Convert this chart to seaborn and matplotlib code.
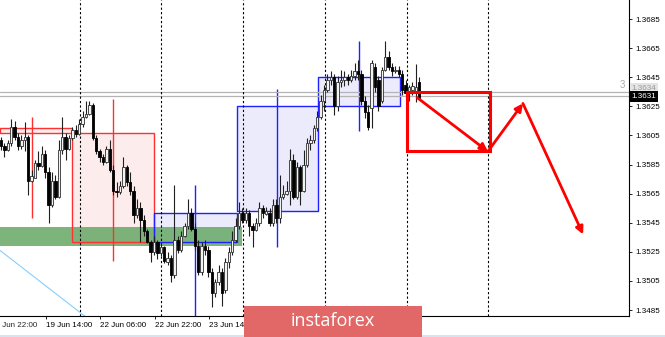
import numpy as np
import pandas as pd
import matplotlib
matplotlib.use('Agg')
import matplotlib.pyplot as plt
import matplotlib.transforms as mtransforms
from matplotlib.patches import Rectangle
import seaborn as sns

# ---------------- data (H1 candles) ----------------
opens = [1.3602, 1.3598, 1.3595, 1.3600, 1.3611, 1.3604, 1.3598, 1.3602, 1.3604, 1.3574,
         1.3576, 1.3586, 1.3584, 1.3592, 1.3580, 1.3557, 1.3574, 1.3563, 1.3595, 1.3604,
         1.3596, 1.3603, 1.3609, 1.3606, 1.3613, 1.3618, 1.3620, 1.3626, 1.3603, 1.3594,
         1.3590, 1.3587, 1.3596, 1.3581, 1.3567, 1.3566, 1.3570, 1.3583, 1.3573, 1.3567,
         1.3550, 1.3555, 1.3547, 1.3539, 1.3532, 1.3525, 1.3532, 1.3524, 1.3528, 1.3518,
         1.3521, 1.3509, 1.3533, 1.3526, 1.3536, 1.3543, 1.3552, 1.3541, 1.3529, 1.3511,
         1.3529, 1.3526, 1.3511, 1.3497, 1.3504, 1.3511, 1.3499, 1.3518, 1.3525, 1.3533,
         1.3543, 1.3552, 1.3547, 1.3552, 1.3543, 1.3540, 1.3545, 1.3555, 1.3551, 1.3552,
         1.3545, 1.3557, 1.3548, 1.3563, 1.3565, 1.3567, 1.3588, 1.3563, 1.3583, 1.3567,
         1.3585, 1.3600, 1.3602, 1.3610, 1.3618, 1.3629, 1.3636, 1.3643, 1.3645, 1.3625,
         1.3642, 1.3643, 1.3645, 1.3643, 1.3646, 1.3649, 1.3647, 1.3629, 1.3621, 1.3624,
         1.3652, 1.3643, 1.3629, 1.3650, 1.3659, 1.3652, 1.3649, 1.3650, 1.3647, 1.3640,
         1.3634, 1.3636, 1.3635, 1.3642]
closes = [1.3598, 1.3595, 1.3600, 1.3611, 1.3604, 1.3598, 1.3602, 1.3604, 1.3574, 1.3577,
          1.3586, 1.3584, 1.3592, 1.3580, 1.3557, 1.3574, 1.3563, 1.3595, 1.3604, 1.3596,
          1.3603, 1.3609, 1.3606, 1.3613, 1.3618, 1.3620, 1.3626, 1.3603, 1.3594, 1.3590,
          1.3587, 1.3596, 1.3581, 1.3567, 1.3566, 1.3570, 1.3583, 1.3573, 1.3567, 1.3550,
          1.3555, 1.3547, 1.3539, 1.3532, 1.3525, 1.3532, 1.3524, 1.3528, 1.3519, 1.3521,
          1.3509, 1.3533, 1.3526, 1.3536, 1.3543, 1.3552, 1.3541, 1.3529, 1.3511, 1.3529,
          1.3526, 1.3511, 1.3497, 1.3504, 1.3511, 1.3497, 1.3518, 1.3525, 1.3533, 1.3543,
          1.3552, 1.3547, 1.3552, 1.3543, 1.3540, 1.3545, 1.3555, 1.3552, 1.3553, 1.3545,
          1.3557, 1.3548, 1.3563, 1.3565, 1.3567, 1.3588, 1.3563, 1.3583, 1.3567, 1.3585,
          1.3600, 1.3602, 1.3610, 1.3618, 1.3629, 1.3636, 1.3643, 1.3645, 1.3625, 1.3642,
          1.3643, 1.3645, 1.3643, 1.3646, 1.3649, 1.3647, 1.3629, 1.3621, 1.3611, 1.3655,
          1.3638, 1.3625, 1.3650, 1.3659, 1.3652, 1.3649, 1.3650, 1.3647, 1.3636, 1.3634,
          1.3638, 1.3639, 1.3638, 1.3631]
highs = [1.3604, 1.3600, 1.3602, 1.3616, 1.3615, 1.3607, 1.3605, 1.3614, 1.3605, 1.3581,
         1.3588, 1.3594, 1.3598, 1.3595, 1.3583, 1.3580, 1.3578, 1.3602, 1.3618, 1.3607,
         1.3605, 1.3611, 1.3612, 1.3616, 1.3622, 1.3629, 1.3629, 1.3627, 1.3605, 1.3596,
         1.3592, 1.3598, 1.3602, 1.3585, 1.3573, 1.3574, 1.3590, 1.3585, 1.3580, 1.3570,
         1.3561, 1.3559, 1.3550, 1.3541, 1.3533, 1.3536, 1.3533, 1.3531, 1.3529, 1.3525,
         1.3523, 1.3571, 1.3536, 1.3539, 1.3545, 1.3561, 1.3555, 1.3545, 1.3533, 1.3532,
         1.3533, 1.3529, 1.3514, 1.3506, 1.3516, 1.3514, 1.3521, 1.3528, 1.3539, 1.3548,
         1.3559, 1.3555, 1.3555, 1.3554, 1.3545, 1.3548, 1.3559, 1.3557, 1.3556, 1.3555,
         1.3561, 1.3561, 1.3578, 1.3571, 1.3574, 1.3596, 1.3592, 1.3587, 1.3585, 1.3595,
         1.3603, 1.3605, 1.3612, 1.3622, 1.3633, 1.3640, 1.3647, 1.3649, 1.3647, 1.3646,
         1.3650, 1.3649, 1.3647, 1.3650, 1.3655, 1.3657, 1.3650, 1.3632, 1.3626, 1.3657,
         1.3655, 1.3646, 1.3652, 1.3670, 1.3663, 1.3655, 1.3653, 1.3653, 1.3650, 1.3643,
         1.3640, 1.3642, 1.3654, 1.3645]
lows = [1.3595, 1.3590, 1.3594, 1.3598, 1.3602, 1.3595, 1.3596, 1.3594, 1.3564, 1.3573,
        1.3576, 1.3581, 1.3583, 1.3576, 1.3545, 1.3556, 1.3561, 1.3562, 1.3592, 1.3588,
        1.3595, 1.3602, 1.3604, 1.3605, 1.3611, 1.3617, 1.3619, 1.3602, 1.3592, 1.3587,
        1.3585, 1.3586, 1.3580, 1.3564, 1.3563, 1.3565, 1.3569, 1.3570, 1.3564, 1.3545,
        1.3548, 1.3532, 1.3536, 1.3531, 1.3518, 1.3523, 1.3520, 1.3522, 1.3517, 1.3516,
        1.3504, 1.3507, 1.3524, 1.3525, 1.3535, 1.3541, 1.3539, 1.3526, 1.3509, 1.3509,
        1.3523, 1.3508, 1.3487, 1.3494, 1.3502, 1.3488, 1.3497, 1.3514, 1.3523, 1.3532,
        1.3541, 1.3545, 1.3545, 1.3536, 1.3528, 1.3539, 1.3543, 1.3548, 1.3550, 1.3543,
        1.3543, 1.3545, 1.3545, 1.3561, 1.3564, 1.3557, 1.3561, 1.3561, 1.3557, 1.3566,
        1.3583, 1.3595, 1.3600, 1.3608, 1.3616, 1.3622, 1.3635, 1.3640, 1.3619, 1.3622,
        1.3638, 1.3639, 1.3640, 1.3642, 1.3643, 1.3643, 1.3626, 1.3617, 1.3609, 1.3610,
        1.3635, 1.3622, 1.3627, 1.3649, 1.3650, 1.3646, 1.3648, 1.3645, 1.3633, 1.3632,
        1.3629, 1.3633, 1.3628, 1.3630]

price_ticks = [1.3485, 1.3505, 1.3525, 1.3545, 1.3565, 1.3585, 1.3605,
               1.3625, 1.3645, 1.3665, 1.3685]
date_labels = ['18 Jun 22:00', '19 Jun 14:00', '22 Jun 06:00', '22 Jun 22:00', '23 Jun 14:00']
date_bars = [-2.8, 13.2, 29.2, 45.2, 61.2]
day_separators = [23.1, 47.1, 71.2, 95.3, 119.3, 143.3]

# daily boxes (bar start, bar end, low, high) and their cross lines (bar, low, high)
red_boxes = [(-0.3, 20.9, 1.3607, 1.3610), (20.9, 45.0, 1.3532, 1.3607)]
red_ticks = [(9.1, 1.3548, 1.3618), (32.9, 1.3519, 1.3630)]
blue_boxes = [(45.0, 69.4, 1.3532, 1.3552), (69.4, 93.2, 1.3553, 1.3625),
              (93.2, 117.4, 1.3625, 1.3645)]
blue_ticks = [(57.1, 1.3480, 1.3571), (81.2, 1.3528, 1.3637), (105.3, 1.3608, 1.3670)]
green_zone = (-0.3, 70.9, 1.3529, 1.3542)
bid_ask = [1.36346, 1.36319]
cyan_x = [-0.3, 26.2]
cyan_y = [1.3526, 1.3478]
forecast_box = (119.4, 143.8, 1.3594, 1.3635)
forecast_path_x = [122.4, 143.2, 153.5, 171.2]
forecast_path_y = [1.3631, 1.3594, 1.3627, 1.3537]

# ---------------- drawing ----------------
sns.set_theme(style='white')
plt.rcParams['font.family'] = ['Liberation Sans', 'DejaVu Sans']

fig = plt.figure(figsize=(6.65, 3.37), dpi=100)
ax = fig.add_axes([0, 21 / 337, 629 / 665, 316 / 337])
ax.set_xlim(-0.294, 184.7)
ax.set_ylim(1.34809, 1.36981)
ax.set_facecolor('white')
for s in ['top', 'left']:
    ax.spines[s].set_visible(False)
for s in ['right', 'bottom']:
    ax.spines[s].set_color('black')
    ax.spines[s].set_linewidth(0.8)

# zones
for x0, x1, lo, hi in red_boxes:
    ax.add_patch(Rectangle((x0, lo), x1 - x0, hi - lo, fc='#fdecec', ec='none', zorder=1))
ax.add_patch(Rectangle((green_zone[0], green_zone[2]), green_zone[1] - green_zone[0],
                       green_zone[3] - green_zone[2], fc='#6aaa6a', ec='none', alpha=0.88, zorder=1.2))
for x0, x1, lo, hi in blue_boxes:
    ax.add_patch(Rectangle((x0, lo), x1 - x0, hi - lo, fc='#e6e6fa', ec='none', alpha=0.8, zorder=1.1))
for x0, x1, lo, hi in red_boxes:
    ax.add_patch(Rectangle((x0, lo), x1 - x0, hi - lo, fill=False, ec='#ff3030', lw=1.0, zorder=1.4))
for x0, x1, lo, hi in blue_boxes:
    ax.add_patch(Rectangle((x0, lo), x1 - x0, hi - lo, fill=False, ec='#2020ff', lw=1.0, zorder=1.4))
for x, lo, hi in red_ticks:
    ax.vlines(x, lo, hi, color='#ff3030', lw=1.0, zorder=1.3)
for x, lo, hi in blue_ticks:
    ax.vlines(x, lo, hi, color='#2020ff', lw=1.0, zorder=1.3)

for p in bid_ask:
    ax.axhline(p, color='#b4b4b4', lw=0.9, zorder=1.5)
for x in day_separators:
    ax.axvline(x, color='black', lw=0.8, ls=(0, (2, 2)), zorder=2)

sns.lineplot(x=cyan_x, y=cyan_y, ax=ax, color='#87cefa', lw=0.8, zorder=1.6)

# candles
df = pd.DataFrame(dict(i=np.arange(len(closes)), o=opens, h=highs, l=lows, c=closes))
up = df.c >= df.o
ax.vlines(df.i, df.l, df.h, color='#202020', lw=0.8, zorder=3)
ax.bar(df.i[up], (df.c - df.o)[up], bottom=df.o[up], width=0.7, color='#f2f2f2',
       edgecolor='#303030', lw=0.6, zorder=4)
ax.bar(df.i[~up], (df.o - df.c)[~up], bottom=df.c[~up], width=0.7, color='black',
       edgecolor='black', lw=0.6, zorder=4)

# forecast drawing
fx0, fx1, flo, fhi = forecast_box
ax.add_patch(Rectangle((fx0, flo), fx1 - fx0, fhi - flo, fill=False, ec='#ff0000', lw=2.2, zorder=6))
for k in range(len(forecast_path_x) - 1):
    ax.annotate('', xy=(forecast_path_x[k + 1], forecast_path_y[k + 1]),
                xytext=(forecast_path_x[k], forecast_path_y[k]),
                arrowprops=dict(arrowstyle='-|>', color='#ff0000', lw=2.0,
                                mutation_scale=11, shrinkA=0, shrinkB=0), zorder=7)

# axes ticks
ax.yaxis.tick_right()
ax.set_yticks(price_ticks)
ax.set_yticklabels([f'{p:.4f}' for p in price_ticks])
ax.tick_params(axis='y', length=2.5, width=0.6, labelsize=5.8, pad=2, colors='black', right=True)
ax.set_xticks(date_bars[1:])
ax.set_xticklabels(date_labels[1:], ha='left')
ax.tick_params(axis='x', length=2.5, width=0.6, labelsize=5.8, pad=1.5, colors='black', bottom=True)
ax.annotate(date_labels[0], xy=(date_bars[0], 0), xycoords=('data', 'axes fraction'),
            xytext=(0, -4), textcoords='offset points', ha='left', va='top', fontsize=5.8,
            annotation_clip=False)
ax.grid(False)

# price labels on axis
trans = mtransforms.blended_transform_factory(ax.transAxes, ax.transData)
ax.text(1.004, 1.36372, '1.3634', transform=trans, fontsize=5.8, color='#9a9a9a', va='center',
        ha='left', bbox=dict(boxstyle='square,pad=0.2', fc='#e4e4e4', ec='none'), zorder=10, clip_on=False)
ax.text(1.004, 1.36318, '1.3631', transform=trans, fontsize=5.8, color='white', va='center',
        ha='left', bbox=dict(boxstyle='square,pad=0.2', fc='black', ec='none'), zorder=11, clip_on=False)
ax.text(0.989, 1.36396, '3', transform=trans, fontsize=7, color='#aaaaaa', va='center', ha='center', zorder=10)

# logo and bottom strip
fig.patches.append(Rectangle((0, 0), 1, 2 / 337, transform=fig.transFigure, fc='#d6e4f2', ec='none', zorder=19))
fig.patches.append(Rectangle((244 / 665, 0), 178 / 665, 31 / 337, transform=fig.transFigure,
                             fc='#e26868', ec='none', zorder=20))
fig.text(333 / 665, 16 / 337, 'instaforex', color='white', fontsize=13, ha='center', va='center',
         family=['Open Sans', 'DejaVu Sans'], zorder=21)

fig.savefig('out.png', dpi=100)
